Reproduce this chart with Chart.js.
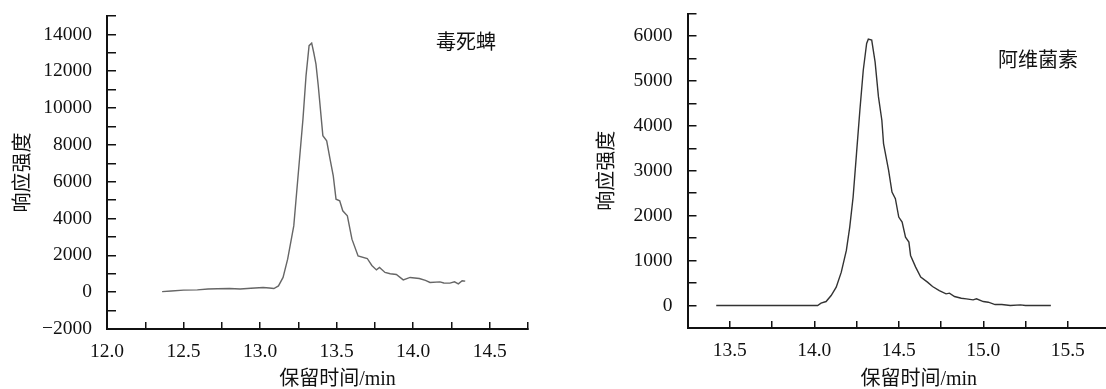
<!DOCTYPE html>
<html>

<head>
  <meta charset="utf-8">
  <script src="https://cdn.jsdelivr.net/npm/chart.js"></script>
  <style>
    body { margin: 0; width: 1106px; height: 389px; overflow: hidden; background: #fff; }
    canvas { position: absolute; top: 0; }
  </style>
</head>

<body>
  <canvas id="chartLeft" width="553" height="389" style="left:0"></canvas>
  <canvas id="chartRight" width="557" height="389" style="left:553px"></canvas>

  <script>
    // 毒死蜱 chromatogram
    const leftTime = [12.36, 12.42, 12.5, 12.59, 12.66, 12.72, 12.8, 12.87, 12.94, 13.02, 13.06, 13.09, 13.12, 13.15, 13.18, 13.22, 13.25, 13.28, 13.30, 13.32, 13.337, 13.35, 13.365, 13.38, 13.40, 13.41, 13.435, 13.457, 13.478, 13.496, 13.52, 13.54, 13.57, 13.60, 13.64, 13.70, 13.73, 13.76, 13.78, 13.816, 13.85, 13.89, 13.935, 13.98, 14.04, 14.08, 14.11, 14.175, 14.2, 14.24, 14.27, 14.295, 14.32, 14.34];
    const leftSignal = [30, 60, 110, 125, 170, 190, 200, 170, 210, 255, 230, 200, 340, 800, 1790, 3600, 6500, 9400, 11750, 13390, 13530, 13030, 12390, 11210, 9400, 8500, 8220, 7230, 6320, 5050, 4960, 4420, 4150, 2880, 1970, 1830, 1450, 1210, 1340, 1070, 1000, 960, 670, 800, 745, 640, 527, 560, 500, 490, 560, 450, 620, 600];
    const leftXTicks = [12.0, 12.25, 12.5, 12.75, 13.0, 13.25, 13.5, 13.75, 14.0, 14.25, 14.5, 14.75];
    const leftYTicks = [-2000, -1000, 0, 1000, 2000, 3000, 4000, 5000, 6000, 7000, 8000, 9000, 10000, 11000, 12000, 13000, 14000, 15000];

    // 阿维菌素 chromatogram
    const rightTime = [13.42, 13.7, 14.02, 14.04, 14.07, 14.10, 14.13, 14.16, 14.19, 14.21, 14.23, 14.25, 14.27, 14.29, 14.31, 14.32, 14.34, 14.36, 14.38, 14.40, 14.41, 14.44, 14.46, 14.48, 14.50, 14.52, 14.54, 14.56, 14.57, 14.60, 14.63, 14.67, 14.70, 14.74, 14.78, 14.80, 14.83, 14.87, 14.90, 14.94, 14.96, 15.00, 15.03, 15.07, 15.11, 15.16, 15.22, 15.25, 15.40];
    const rightSignal = [0, 0, 0, 52, 89, 223, 409, 743, 1226, 1746, 2415, 3381, 4347, 5238, 5833, 5929, 5907, 5424, 4644, 4124, 3604, 3009, 2526, 2378, 1969, 1858, 1523, 1412, 1115, 855, 632, 520, 424, 334, 260, 275, 201, 163, 149, 126, 149, 89, 74, 22, 22, 0, 15, 0, 0];
    const rightXTicks = [13.25, 13.5, 13.75, 14.0, 14.25, 14.5, 14.75, 15.0, 15.25, 15.5, 15.75];
    const rightYTicks = [-500, 0, 500, 1000, 1500, 2000, 2500, 3000, 3500, 4000, 4500, 5000, 5500, 6000, 6500];

    const tickFont = { family: "'Liberation Serif', 'Times New Roman', serif", size: 19.5 };
    const titleFamily = "'Liberation Serif', 'Noto Sans CJK SC', serif";

    // compound name inside the plot and the x title (shifted right like the original)
    const textPlugin = {
      id: "textPlugin",
      afterDraw(chart, args, opts) {
        const ctx = chart.ctx;
        const area = chart.chartArea;
        ctx.save();
        ctx.fillStyle = "#111";
        ctx.font = "20px " + titleFamily;
        ctx.textAlign = "center";
        ctx.textBaseline = "middle";
        ctx.fillText(opts.name, area.right + opts.nameDx, area.top + opts.nameDy);
        ctx.fillText("保留时间/min", (area.left + area.right) / 2 + 20, 380);
        ctx.restore();
      }
    };

    function noPad(s) {
      s.paddingTop = 0;
      s.paddingBottom = 0;
      s.paddingLeft = 0;
      s.paddingRight = 0;
    }

    function makeChart(id, time, signal, lineColor, xTicks, yTicks, cfg) {
      const ctx = document.getElementById(id).getContext("2d");
      return new Chart(ctx, {
        type: "line",
        data: {
          datasets: [{
            data: time.map((t, i) => ({ x: t, y: signal[i] })),
            borderColor: lineColor,
            borderWidth: 1.4,
            pointRadius: 0,
            tension: 0,
            fill: false
          }]
        },
        options: {
          responsive: false,
          animation: false,
          layout: { padding: { top: cfg.top, right: cfg.right, left: 0, bottom: 0 } },
          plugins: {
            legend: { display: false },
            tooltip: { enabled: false },
            textPlugin: { name: cfg.name, nameDx: cfg.nameDx, nameDy: cfg.nameDy }
          },
          scales: {
            x: {
              type: "linear",
              min: xTicks[0],
              max: xTicks[xTicks.length - 1],
              afterBuildTicks: s => { s.ticks = xTicks.map(v => ({ value: v })); },
              afterFit: s => { s.height = cfg.xHeight; noPad(s); },
              border: { color: "#111", width: 2 },
              grid: { drawOnChartArea: false, color: "#111", lineWidth: 1.5, tickLength: -7 },
              ticks: {
                color: "#111",
                font: tickFont,
                padding: 18,
                maxRotation: 0,
                autoSkip: false,
                callback: v => (Math.abs(v * 2 - Math.round(v * 2)) < 1e-6 ? v.toFixed(1) : "")
              }
            },
            y: {
              min: yTicks[0],
              max: yTicks[yTicks.length - 1],
              afterBuildTicks: s => { s.ticks = yTicks.map(v => ({ value: v })); },
              afterFit: s => { s.width = cfg.yWidth; noPad(s); },
              border: { color: "#111", width: 2 },
              grid: { drawOnChartArea: false, color: "#111", lineWidth: 1.5, tickLength: -9 },
              title: {
                display: true,
                text: "响应强度",
                color: "#111",
                font: { family: titleFamily, size: 20 },
                padding: { top: cfg.titlePad, bottom: 0 }
              },
              ticks: {
                color: "#111",
                font: tickFont,
                padding: 24,
                autoSkip: false,
                callback: v => (cfg.labelled(v) ? (v < 0 ? "\u2212" + Math.abs(v) : String(v)) : "")
              }
            }
          }
        },
        plugins: [textPlugin]
      });
    }

    makeChart("chartLeft", leftTime, leftSignal, "#666", leftXTicks, leftYTicks, {
      top: 16, right: 25, xHeight: 60, yWidth: 107, titlePad: 12,
      name: "毒死蜱", nameDx: -62, nameDy: 28,
      labelled: v => v % 2000 === 0 && v <= 14000
    });

    makeChart("chartRight", rightTime, rightSignal, "#333", rightXTicks, rightYTicks, {
      top: 13.5, right: 0, xHeight: 61, yWidth: 134.5, titlePad: 43,
      name: "阿维菌素", nameDx: -72, nameDy: 48.5,
      labelled: v => v % 1000 === 0 && v >= 0 && v <= 6000
    });
  </script>
</body>

</html>
